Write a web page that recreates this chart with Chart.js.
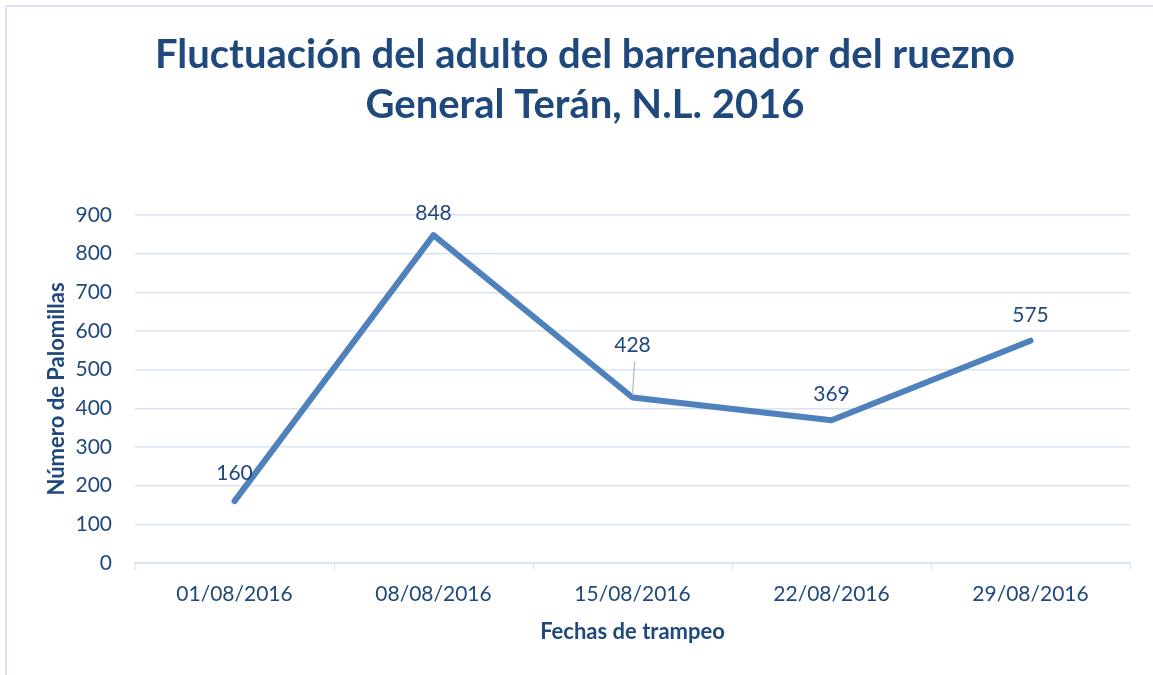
<!DOCTYPE html>
<html>
<head>
<meta charset="utf-8">
<script src="https://cdn.jsdelivr.net/npm/chart.js@4"></script>
<style>
  html, body { margin: 0; padding: 0; background: #fff; }
  #frame {
    position: absolute; left: 5px; top: 5px; width: 1160px; height: 690px;
    border-left: 2px solid #D6E3F4; border-top: 2px solid #D6E3F4;
  }
  #wrap { position: absolute; left: 0; top: 0; width: 1153px; height: 675px; }
</style>
</head>
<body>
<div id="frame"></div>
<div id="wrap"><canvas id="myChart"></canvas></div>
<script>
const fechas = ['01/08/2016', '08/08/2016', '15/08/2016', '22/08/2016', '29/08/2016']
const palomillas = [160, 848, 428, 369, 575]
const yTicks = [0, 100, 200, 300, 400, 500, 600, 700, 800, 900]

const textBlue = '#1F497D'
const lineBlue = '#4F81BD'
const gridBlue = '#D9E3F1'
const font = 'Lato, "Open Sans", sans-serif'

// label lift above each point (px); 428 gets a leader line
const labelLift = [28, 22, 52, 26, 25]

const dataLabels = {
  id: 'dataLabels',
  afterDatasetsDraw(chart) {
    const ctx = chart.ctx
    const meta = chart.getDatasetMeta(0)
    ctx.save()
    ctx.font = '21px ' + font
    ctx.fillStyle = textBlue
    ctx.textAlign = 'center'
    ctx.textBaseline = 'middle'
    meta.data.forEach((pt, i) => {
      const y = pt.y - labelLift[i]
      ctx.fillText(String(palomillas[i]), pt.x, y)
      if (labelLift[i] > 40) {
        ctx.strokeStyle = '#8EB0DA'
        ctx.lineWidth = 1
        ctx.beginPath()
        ctx.moveTo(pt.x + 2, y + 16)
        ctx.lineTo(pt.x, pt.y - 2)
        ctx.stroke()
      }
    })
    ctx.restore()
  }
}

const config = {
  type: 'line',
  data: {
    labels: fechas,
    datasets: [{
      data: palomillas,
      borderColor: lineBlue,
      borderWidth: 6,
      borderCapStyle: 'round',
      borderJoinStyle: 'round',
      pointRadius: 0,
      tension: 0,
      fill: false
    }]
  },
  options: {
    responsive: false,
    animation: false,
    layout: { padding: { top: 20, right: 23, bottom: 28, left: 40 } },
    plugins: {
      legend: { display: false },
      tooltip: { enabled: false },
      title: {
        display: true,
        text: ['Fluctuación del adulto del barrenador del ruezno', 'General Terán, N.L. 2016'],
        color: textBlue,
        font: { family: font, size: 40, weight: 'bold', lineHeight: 1.25 },
        padding: { top: 10, bottom: 85 }
      }
    },
    scales: {
      x: {
        offset: true,
        afterFit(axis) { axis.height = 84 },
        grid: { display: true, drawOnChartArea: false, color: gridBlue, tickLength: 7, offset: true },
        border: { color: gridBlue, width: 2 },
        ticks: { color: textBlue, font: { family: font, size: 21 }, padding: 12, maxRotation: 0 },
        title: {
          display: true, text: 'Fechas de trampeo', color: textBlue,
          font: { family: font, size: 22, weight: 'bold' }, padding: { top: 11, bottom: 2 }
        }
      },
      y: {
        min: 0, max: 900,
        afterBuildTicks(axis) { axis.ticks = yTicks.map(v => ({ value: v })) },
        afterFit(axis) { axis.width = 95 },
        grid: { color: gridBlue, lineWidth: 1.5, drawTicks: false },
        border: { display: false },
        ticks: { color: textBlue, font: { family: font, size: 21 }, padding: 23 },
        title: {
          display: true, text: 'Número de Palomillas', color: textBlue,
          font: { family: font, size: 22, weight: 'bold' }, padding: { top: 4, bottom: 4 }
        }
      }
    }
  },
  plugins: [dataLabels]
}

const canvas = document.getElementById('myChart')
canvas.width = 1153
canvas.height = 675
new Chart(canvas, config)
</script>
</body>
</html>
